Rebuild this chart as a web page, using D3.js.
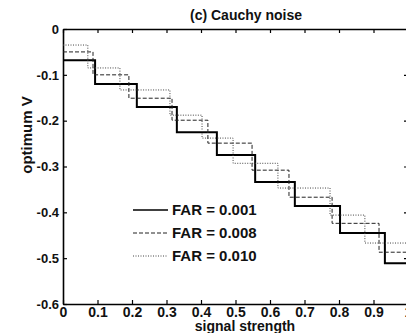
<!DOCTYPE html>
<html>
<head>
<meta charset="utf-8">
<script src="https://cdn.jsdelivr.net/npm/d3@7"></script>
<style>
  body { margin: 0; background: #fff; }
  svg { display: block; }
  text { font-family: "Liberation Sans", Arial, sans-serif; font-weight: bold; fill: #111; }
</style>
</head>
<body>
<div id="container"><svg></svg></div>
<script>
// step positions (signal strength where the level starts) and levels (optimum V)
const solidX = [0, 0.093, 0.214, 0.330, 0.446, 0.557, 0.672, 0.803, 0.933]
const solidY = [-0.068, -0.120, -0.170, -0.225, -0.275, -0.334, -0.386, -0.445, -0.511]

const dashedX = [0, 0.087, 0.191, 0.316, 0.420, 0.548, 0.655, 0.780, 0.916]
const dashedY = [-0.050, -0.100, -0.151, -0.199, -0.249, -0.308, -0.367, -0.424, -0.487]

const dottedX = [0, 0.072, 0.165, 0.310, 0.403, 0.493, 0.623, 0.774, 0.875]
const dottedY = [-0.035, -0.085, -0.133, -0.188, -0.238, -0.293, -0.347, -0.406, -0.467]

const xTicks = [0, 0.1, 0.2, 0.3, 0.4, 0.5, 0.6, 0.7, 0.8, 0.9, 1]
const yTicks = [0, -0.1, -0.2, -0.3, -0.4, -0.5, -0.6]

const legendLabels = ["FAR = 0.001", "FAR = 0.008", "FAR = 0.010"]

let svgWidth = 406
let svgHeight = 333
let margin = { left: 63, top: 29, right: -2, bottom: 29 }
let chartWidth = svgWidth - margin.left - margin.right
let chartHeight = svgHeight - margin.top - margin.bottom

const svg = d3.select("svg")
    .attr("width", svgWidth)
    .attr("height", svgHeight)

const g = svg.append("g")
    .attr("transform", `translate(${margin.left}, ${margin.top})`)

var x = d3.scaleLinear().domain([0, 1]).range([0, chartWidth])
var y = d3.scaleLinear().domain([-0.6, 0]).range([chartHeight, 0])

// build step series, ending at x = 1
function makeSeries(xs, ys) {
    var pts = xs.map((d, i) => ({ x: d, y: ys[i] }))
    pts.push({ x: 1, y: ys[ys.length - 1] })
    return pts
}

const series = [
    { name: legendLabels[0], values: makeSeries(solidX, solidY), width: 2, dash: null, color: "#000" },
    { name: legendLabels[1], values: makeSeries(dashedX, dashedY), width: 1, dash: "4,2", color: "#222" },
    { name: legendLabels[2], values: makeSeries(dottedX, dottedY), width: 1, dash: "1,1.5", color: "#444" }
]

// axes (MATLAB style: ticks inside on all sides)
g.append("g")
    .attr("class", "xaxis")
    .attr("transform", `translate(0, ${chartHeight})`)
    .call(d3.axisBottom(x).tickValues(xTicks).tickSizeInner(-4).tickSizeOuter(0).tickPadding(3)
        .tickFormat(d => d == 0 || d == 1 ? d3.format("d")(d) : d3.format(".1f")(d)))

g.append("g")
    .attr("class", "yaxis")
    .call(d3.axisLeft(y).tickValues(yTicks).tickSizeInner(-4).tickSizeOuter(0).tickPadding(4)
        .tickFormat(d => d == 0 ? "0" : d3.format(".1f")(d).replace("−", "-")))

g.append("g")
    .call(d3.axisTop(x).tickValues(xTicks).tickSizeInner(-4).tickSizeOuter(0).tickFormat(""))

g.append("g")
    .attr("transform", `translate(${chartWidth}, 0)`)
    .call(d3.axisRight(y).tickValues(yTicks).tickSizeInner(-4).tickSizeOuter(0).tickFormat(""))

g.selectAll(".domain").attr("stroke", "#000").attr("stroke-width", 1.6)
g.selectAll(".tick line").attr("stroke", "#000").attr("stroke-width", 1.2)
g.selectAll(".tick text").style("font-size", "14px").style("font-family", "Liberation Sans, Arial, sans-serif")
g.select(".yaxis").selectAll(".tick text").style("font-size", "13px")

// lines
g.append("g")
    .selectAll(".line")
    .data(series)
    .enter()
    .append("path")
    .attr("class", "line")
    .attr("fill", "none")
    .attr("stroke", d => d.color)
    .attr("stroke-width", d => d.width)
    .attr("stroke-dasharray", d => d.dash)
    .attr("d", d => d3.line()
        .curve(d3.curveStepAfter)
        .x(p => x(p.x))
        .y(p => y(p.y))(d.values))

// legend
var legend = g.append("g")
    .selectAll(".legend")
    .data(series)
    .enter()
    .append("g")
    .attr("class", "legend")
    .attr("transform", (d, i) => `translate(70, ${181 + i * 23})`)

legend.append("line")
    .attr("x1", 0).attr("x2", 35)
    .attr("y1", 0).attr("y2", 0)
    .attr("stroke", d => d.color)
    .attr("stroke-width", d => d.width == 2 ? 1.6 : 1)
    .attr("stroke-dasharray", d => d.dash)

legend.append("text")
    .attr("x", 39)
    .attr("y", 5)
    .style("font-size", "15px")
    .text(d => d.name)

// title and axis labels
svg.append("text")
    .attr("x", 246)
    .attr("y", 20)
    .attr("text-anchor", "middle")
    .style("font-size", "14px")
    .text("(c) Cauchy noise")

svg.append("text")
    .attr("x", 245)
    .attr("y", 331)
    .attr("text-anchor", "middle")
    .style("font-size", "14px")
    .text("signal strength")

svg.append("text")
    .attr("transform", "translate(32, 135) rotate(-90)")
    .attr("text-anchor", "middle")
    .style("font-size", "15px")
    .text("optimum V")
</script>
</body>
</html>
